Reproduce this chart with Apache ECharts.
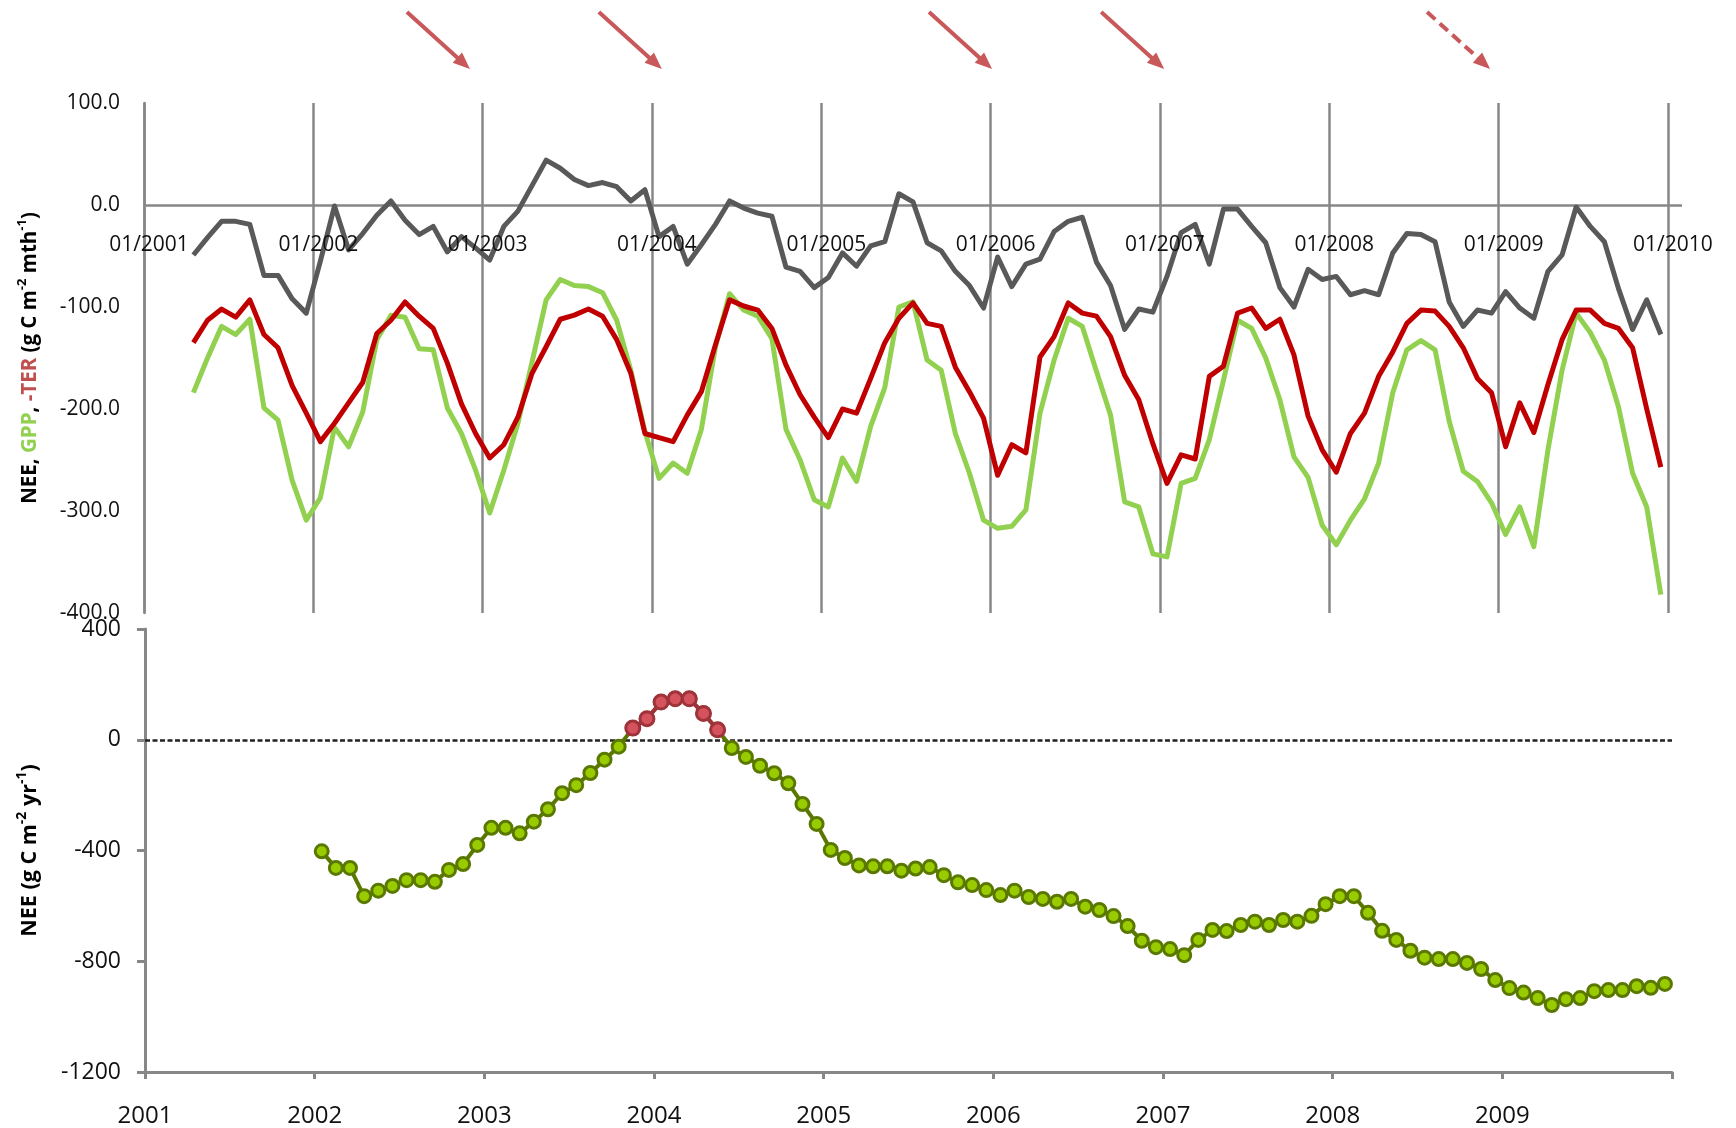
<!DOCTYPE html>
<html>
<head>
<meta charset="utf-8">
<script src="https://cdn.jsdelivr.net/npm/echarts@6/dist/echarts.min.js"></script>
<style>
  html, body { margin: 0; padding: 0; background: #ffffff; }
  #chart { width: 1736px; height: 1128px; }
</style>
</head>
<body>
<div id="chart"></div>
<script>
// ---- Monthly fluxes (g C m-2 month-1), April 2001 - December 2009 ----
// month index 0 = January 2001
const monthlyStart = 3;
const neeMonthly = [
  -49, -32, -16, -16, -19, -69, -69, -92, -106, -55,
  -1, -44, -28, -10, 4, -15, -29, -21, -46, -31,
  -42, -54, -21, -6, 19, 44, 36, 25, 19, 22,
  18, 4, 15, -31, -21, -58, -39, -19, 4, -3,
  -8, -11, -61, -65, -81, -71, -47, -60, -40, -36,
  11, 3, -37, -45, -65, -79, -101, -51, -80, -58,
  -53, -26, -16, -12, -56, -79, -122, -102, -105, -70,
  -27, -19, -58, -4, -4, -21, -37, -81, -100, -63,
  -73, -70, -88, -84, -88, -47, -28, -29, -36, -95,
  -119, -103, -106, -85, -101, -111, -65, -49, -2, -21,
  -36, -82, -122, -93, -127
];
const gppMonthly = [
  -184, -150, -119, -127, -112, -199, -211, -270, -309, -287,
  -218, -237, -203, -132, -108, -110, -141, -142, -199, -224,
  -260, -302, -260, -214, -154, -93, -73, -79, -80, -86,
  -113, -162, -222, -268, -253, -263, -220, -139, -87, -103,
  -109, -131, -220, -250, -289, -296, -248, -271, -217, -179,
  -100, -95, -152, -162, -224, -263, -309, -317, -315, -299,
  -204, -152, -111, -119, -163, -206, -291, -296, -342, -345,
  -273, -268, -230, -172, -113, -121, -150, -191, -247, -267,
  -314, -333, -309, -288, -253, -184, -142, -133, -142, -212,
  -261, -271, -292, -323, -296, -335, -240, -162, -106, -125,
  -152, -198, -263, -296, -382
];
// plotted with negative sign (-TER)
const negTerMonthly = [
  -135, -113, -102, -110, -93, -127, -140, -177, -204, -232,
  -214, -194, -174, -126, -113, -95, -109, -121, -155, -195,
  -224, -248, -235, -208, -165, -139, -112, -108, -102, -109,
  -132, -165, -224, -228, -232, -206, -183, -137, -93, -99,
  -103, -121, -157, -186, -208, -228, -200, -204, -170, -135,
  -111, -96, -116, -119, -159, -183, -209, -265, -235, -243,
  -149, -129, -96, -106, -109, -129, -167, -191, -234, -273,
  -245, -249, -168, -158, -106, -101, -121, -112, -147, -207,
  -240, -262, -224, -204, -168, -144, -116, -103, -104, -119,
  -140, -170, -184, -237, -194, -223, -176, -132, -103, -103,
  -116, -121, -140, -200, -257
];

// ---- Running annual NEE (g C m-2 yr-1), January 2002 - December 2009 ----
const annualStart = 12;
const neeAnnual = [
  -403, -463, -463, -565, -545, -528, -507, -507, -513, -470, -449, -380,
  -318, -318, -338, -296, -251, -193, -164, -120, -72, -25, 42, 76,
  136, 148, 148, 95, 36, -30, -62, -94, -121, -157, -232, -304,
  -398, -427, -454, -457, -457, -473, -465, -460, -489, -515, -525, -543,
  -561, -545, -568, -575, -585, -575, -603, -615, -637, -673, -726, -749,
  -756, -778, -723, -687, -691, -669, -657, -669, -651, -657, -636, -594,
  -565, -565, -625, -690, -723, -762, -787, -792, -792, -806, -828, -868,
  -897, -913, -933, -958, -937, -933, -908, -904, -904, -890, -896, -882
];

// ---- Axis settings ----
const firstYear = 2001;
const topYTicks = { min: -400, max: 100, step: 100 };
const bottomYTicks = { min: -1200, max: 400, step: 400 };

// Arrows above the upper panel (month index of the tip, dashed or solid)
const arrowMonths = [23.1, 36.7, 60.1, 72.3, 95.4];
const arrowDashed = [false, false, false, false, true];

// ---- Layout ----
const topGrid = { left: 144, top: 103, width: 1538, height: 510 };
const bottomGrid = { left: 145, top: 629, width: 1527, height: 443 };
// distance from the bottom of the upper panel up to its zero line
const zeroLift = topGrid.height * (0 - topYTicks.min) / (topYTicks.max - topYTicks.min);

// ---- Styling ----
const FONT = 'Open Sans';
const AXIS_GRAY = '#878787';
const C_NEE = '#595959';
const C_GPP = '#92D050';
const C_TER = '#C00000';
const C_TITLE_TER = '#C0504D';
const C_SINK_FILL = '#99CC00';
const C_SINK_LINE = '#5A7800';
const C_SRC_FILL = '#D4535D';
const C_SRC_LINE = '#A0323C';
const C_ARROW = '#C9585A';

const monthPos = i => i + 0.5;
const toPairs = (arr, start) => arr.map((v, k) => [monthPos(start + k), v]);

const chart = echarts.init(document.getElementById('chart'), null, { renderer: 'canvas' });

function richTitle(size) {
  const base = { fontFamily: FONT, fontWeight: 'bold', fontSize: size, lineHeight: Math.round(size * 1.35) };
  return {
    b: Object.assign({ color: '#000' }, base),
    g: Object.assign({ color: C_GPP }, base),
    r: Object.assign({ color: C_TITLE_TER }, base),
    s: { fontFamily: FONT, fontWeight: 'bold', fontSize: Math.round(size * 0.65), color: '#000',
         verticalAlign: 'top', lineHeight: Math.round(size * 1.35) }
  };
}

const option = {
  animation: false,
  backgroundColor: '#ffffff',
  grid: [
    Object.assign({}, topGrid),
    Object.assign({}, bottomGrid)
  ],
  xAxis: [
    { // upper panel: date labels sitting under the zero line, drawn over the curves
      gridIndex: 0, type: 'value', min: 0, max: 109, interval: 12, z: 10,
      position: 'bottom', offset: -zeroLift,
      axisLine: { show: false, onZero: false },
      axisTick: { show: false },
      splitLine: { show: false },
      axisLabel: {
        fontFamily: FONT, fontSize: 21, color: '#111', margin: 30, padding: [0, 0, 0, 10],
        formatter: v => (v % 12 === 0 && v <= 108) ? '01/' + (firstYear + v / 12) : ''
      }
    },
    { // upper panel: yearly grid lines beneath the curves
      gridIndex: 0, type: 'value', min: 0, max: 109, interval: 12, z: 0,
      position: 'top',
      axisLine: { show: false, onZero: false },
      axisTick: { show: false },
      axisLabel: { show: false },
      splitLine: { show: true, showMaxLine: false, lineStyle: { color: AXIS_GRAY, width: 2.5 } }
    },
    { // lower panel
      gridIndex: 1, type: 'value', min: 0, max: 108, interval: 12,
      axisLine: { onZero: false, lineStyle: { color: AXIS_GRAY, width: 3 } },
      axisTick: { show: true, length: 7, lineStyle: { color: AXIS_GRAY, width: 3 } },
      splitLine: { show: false },
      axisLabel: {
        fontFamily: FONT, fontSize: 24, color: '#111', margin: 32,
        formatter: v => (v % 12 === 0 && v < 108) ? String(firstYear + v / 12) : ''
      }
    }
  ],
  yAxis: [
    {
      gridIndex: 0, type: 'value', min: topYTicks.min, max: topYTicks.max, interval: topYTicks.step,
      axisLine: { show: true, onZero: false, lineStyle: { color: AXIS_GRAY, width: 2.5 } },
      axisTick: { show: false },
      splitLine: { show: false },
      axisLabel: { fontFamily: FONT, fontSize: 21, color: '#111', margin: 24, formatter: v => v.toFixed(1) },
      name: '{b|NEE, }{g|GPP}{b|, }{r|-TER}{b| (g C m}{s|-2}{b| mth}{s|-1}{b|)}',
      nameLocation: 'middle', nameRotate: 90, nameGap: 100,
      nameTextStyle: { rich: richTitle(20.5) }
    },
    {
      gridIndex: 1, type: 'value', min: bottomYTicks.min, max: bottomYTicks.max, interval: bottomYTicks.step,
      axisLine: { show: true, onZero: false, lineStyle: { color: AXIS_GRAY, width: 3 } },
      axisTick: { show: true, length: 8, lineStyle: { color: AXIS_GRAY, width: 3 } },
      splitLine: { show: false },
      axisLabel: { fontFamily: FONT, fontSize: 23, color: '#111', margin: 24, formatter: v => String(v) },
      name: '{b|NEE (g C m}{s|-2}{b| yr}{s|-1}{b|)}',
      nameLocation: 'middle', nameRotate: 90, nameGap: 101,
      nameTextStyle: { rich: richTitle(21.5) }
    }
  ],
  series: [
    {
      name: 'GPP', type: 'line', xAxisIndex: 0, yAxisIndex: 0,
      data: toPairs(gppMonthly, monthlyStart), showSymbol: false,
      lineStyle: { color: C_GPP, width: 5, join: 'round' }, z: 2,
      // zero line of the upper panel, kept beneath the curves
      markLine: {
        silent: true, symbol: 'none', z: 1,
        label: { show: false },
        lineStyle: { color: AXIS_GRAY, width: 2.5, type: 'solid' },
        data: [{ yAxis: 0 }]
      }
    },
    {
      name: '-TER', type: 'line', xAxisIndex: 0, yAxisIndex: 0,
      data: toPairs(negTerMonthly, monthlyStart), showSymbol: false,
      lineStyle: { color: C_TER, width: 5, join: 'round' }, z: 3
    },
    {
      name: 'NEE', type: 'line', xAxisIndex: 0, yAxisIndex: 0,
      data: toPairs(neeMonthly, monthlyStart), showSymbol: false,
      lineStyle: { color: C_NEE, width: 5, join: 'round' }, z: 4
    },
    {
      name: 'NEE annual', type: 'line', xAxisIndex: 2, yAxisIndex: 1,
      data: toPairs(neeAnnual, annualStart),
      symbol: 'circle', symbolSize: 13, showSymbol: true,
      lineStyle: { color: C_SINK_LINE, width: 4, join: 'round' },
      itemStyle: { color: C_SINK_FILL, borderColor: C_SINK_LINE, borderWidth: 3 },
      z: 3,
      markLine: {
        silent: true, symbol: 'none', z: 1,
        label: { show: false },
        lineStyle: { color: '#222', width: 2.5, type: [5, 2.5] },
        data: [{ yAxis: 0 }]
      }
    },
    {
      name: 'NEE annual source', type: 'line', xAxisIndex: 2, yAxisIndex: 1,
      data: toPairs(neeAnnual.map(v => (v > 0 ? v : null)), annualStart),
      connectNulls: false,
      symbol: 'circle', symbolSize: 14, showSymbol: true,
      lineStyle: { color: C_SRC_LINE, width: 4, join: 'round' },
      itemStyle: { color: C_SRC_FILL, borderColor: C_SRC_LINE, borderWidth: 3 },
      z: 4
    }
  ]
};

chart.setOption(option);

// Arrow annotations above the upper panel, anchored to the date axis
function buildArrows() {
  const topY = chart.convertToPixel({ yAxisIndex: 0 }, topYTicks.max);
  const elements = [];
  const dx = 63, dy = 57, headLen = 17, headHalf = 7;
  const len = Math.sqrt(dx * dx + dy * dy);
  const ux = dx / len, uy = dy / len;
  arrowMonths.forEach((m, k) => {
    const tx = chart.convertToPixel({ xAxisIndex: 0 }, m);
    const ty = topY - 34;
    const sx = tx - dx, sy = ty - dy;
    const bx = tx - ux * headLen, by = ty - uy * headLen;
    elements.push({
      type: 'line', silent: true, z: 20,
      shape: { x1: sx, y1: sy, x2: bx + ux * 2, y2: by + uy * 2 },
      style: { stroke: C_ARROW, lineWidth: 4, lineDash: arrowDashed[k] ? [11, 6] : null }
    });
    elements.push({
      type: 'polygon', silent: true, z: 20,
      shape: { points: [[tx, ty], [bx - uy * headHalf, by + ux * headHalf], [bx + uy * headHalf, by - ux * headHalf]] },
      style: { fill: C_ARROW }
    });
  });
  chart.setOption({ graphic: elements });
}
buildArrows();
</script>
</body>
</html>
